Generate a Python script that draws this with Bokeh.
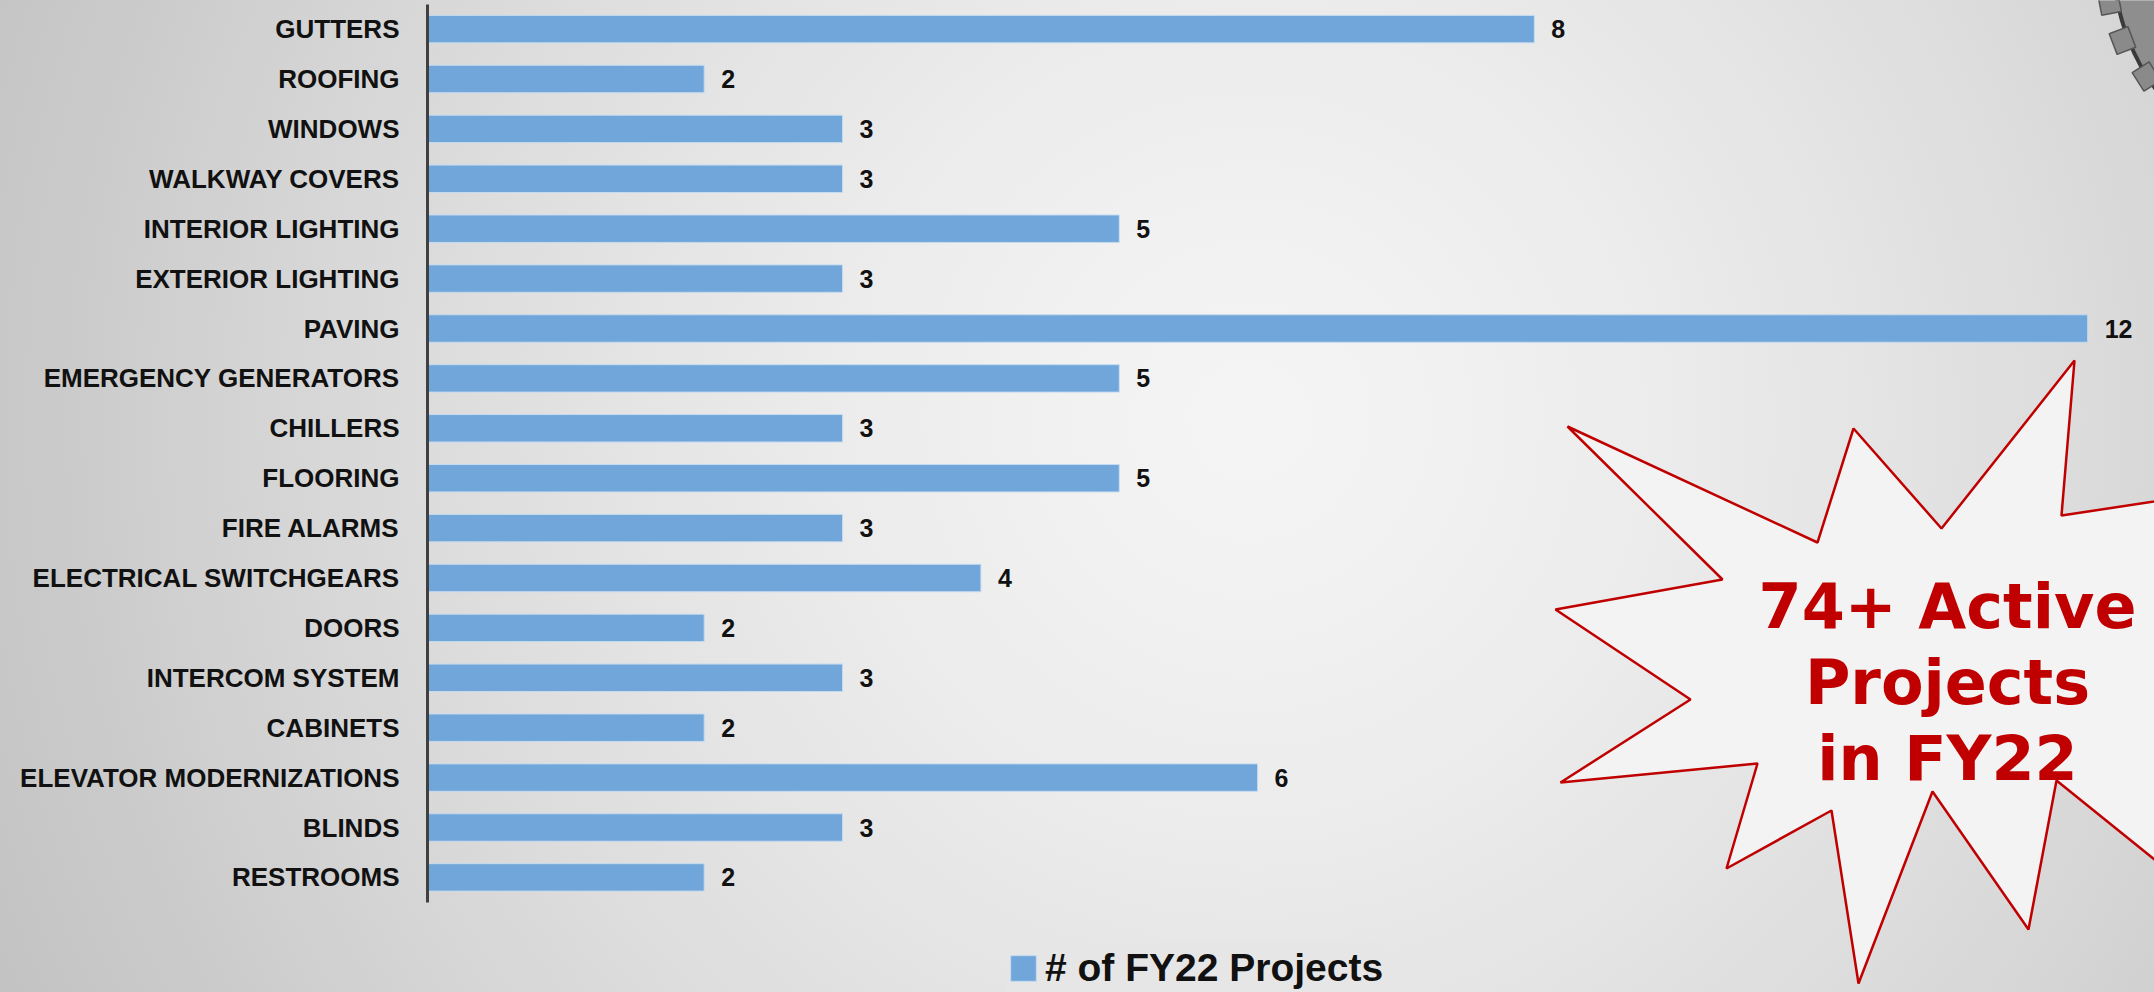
import math
from bokeh.plotting import figure
from bokeh.models import Range1d, FixedTicker, Legend, LegendItem
from bokeh.core.properties import value
from bokeh.embed import file_html
from bokeh.resources import INLINE

# ---------------- data ----------------
categories = ["GUTTERS", "ROOFING", "WINDOWS", "WALKWAY COVERS", "INTERIOR LIGHTING",
              "EXTERIOR LIGHTING", "PAVING", "EMERGENCY GENERATORS", "CHILLERS", "FLOORING",
              "FIRE ALARMS", "ELECTRICAL SWITCHGEARS", "DOORS", "INTERCOM SYSTEM", "CABINETS",
              "ELEVATOR MODERNIZATIONS", "BLINDS", "RESTROOMS"]
projects = [8, 2, 3, 3, 5, 3, 12, 5, 3, 5, 3, 4, 2, 3, 2, 6, 3, 2]
series_name = "# of FY22 Projects"
callout_lines = ["74+ Active", "Projects", "in FY22"]

# ---------------- layout constants (pixels) ----------------
W, H = 2154, 992
LEFT = 427            # frame left (axis line)
PX_PER_UNIT = 138.35  # pixels per project
ROW0 = 28.6           # first row centre (px from top)
PITCH = 49.9          # row pitch
n = len(categories)
idx = list(range(n))

x_end = (W - LEFT) / PX_PER_UNIT
y_top = -ROW0 / PITCH
y_bot = y_top + H / PITCH

def X(px):  # canvas pixel -> data x
    return (px - LEFT) / PX_PER_UNIT

def Y(px):  # canvas pixel -> data y
    return (px - ROW0) / PITCH

p = figure(width=W, height=H, output_backend="svg", toolbar_location=None,
           x_range=Range1d(0, x_end), y_range=Range1d(y_bot, y_top),
           x_axis_location=None, min_border_left=LEFT, min_border_right=0,
           min_border_top=0, min_border_bottom=0,
           border_fill_color=None, background_fill_color=None, outline_line_color=None)
p.styles = {"background-image": "radial-gradient(circle at 1250px 420px, #f4f4f4 0px, #f1f1f1 200px, "
            "#ececec 400px, #e5e5e5 600px, #dddddd 800px, #d4d4d4 1000px, #cacaca 1200px, "
            "#c2c2c2 1400px, #bebebe 1600px)"}
p.grid.visible = False

ax = p.yaxis[0]
ax.ticker = FixedTicker(ticks=idx)
ax.major_label_overrides = {i: c for i, c in zip(idx, categories)}
ax.major_label_text_font = "Liberation Sans"
ax.major_label_text_font_style = "bold"
ax.major_label_text_font_size = "26px"
ax.major_label_text_color = "#111111"
ax.major_label_standoff = 28
ax.major_tick_line_color = None
ax.minor_tick_line_color = None
ax.major_tick_in = 0
ax.major_tick_out = 0
ax.axis_line_color = "#404040"
ax.axis_line_width = 3
ax.bounds = (-0.5, n - 0.5)

# ---------------- bars ----------------
bars = p.hbar(y=idx, right=projects, left=0, height=0.55,
              fill_color="#70a6d9", line_color="#c4dbf1", line_width=1)

p.text(x=projects, y=idx, text=[str(v) for v in projects], x_offset=17,
       text_baseline="middle", text_align="left", text_font=value("Liberation Sans"),
       text_font_style="bold", text_font_size="25px", text_color="#111111")

# ---------------- callout starburst ----------------
star_px = [(1567, 426), (1817, 542), (1853, 428), (1941, 528), (2074, 360), (2061, 515),
           (2200, 494), (2250, 680), (2200, 896), (2056, 780), (2028, 929), (1932, 791),
           (1858, 983), (1831, 810), (1726, 868), (1757, 763), (1560, 782), (1690, 699),
           (1555, 609), (1722, 579)]
p.patch(x=[X(a) for a, b in star_px], y=[Y(b) for a, b in star_px],
        fill_color="#f3f3f3", line_color="#c00000", line_width=2.5)

callout_x = [X(1947)] * 3
callout_y = [Y(606), Y(682), Y(758)]
p.text(x=callout_x, y=callout_y, text=callout_lines, text_align="center",
       text_baseline="alphabetic", text_font=value("DejaVu Sans"), text_font_style="bold",
       text_font_size="62px", text_color="#c00000")

# ---------------- gear decoration (top-right corner) ----------------
gc = (2330, -40)
p.circle(x=[X(gc[0])], y=[Y(gc[1])], radius=217, radius_units="screen",
         fill_color="#8e8e8e", line_color="#3a3a3a", line_width=4)
teeth = [(2109, 2), (2122, 40), (2146, 76)]
angles = [math.atan2(-(b - gc[1]), a - gc[0]) for a, b in teeth]
p.rect(x=[X(a) for a, b in teeth], y=[Y(b) for a, b in teeth], width=20, height=22,
       width_units="screen", height_units="screen", angle=angles,
       fill_color="#8a8a8a", line_color="#555555", line_width=1.5)

# ---------------- legend ----------------
legend = Legend(items=[LegendItem(label=series_name, renderers=[bars])],
                location=(580, -1), orientation="horizontal",
                glyph_width=32, glyph_height=32, label_height=50, label_standoff=6,
                padding=10,
                label_text_font="Liberation Sans", label_text_font_style="bold",
                label_text_font_size="39px", label_text_color="#111111",
                background_fill_color="#e6e6e6", background_fill_alpha=1.0,
                border_line_color=None)
p.add_layout(legend)

open("out.html", "w").write(file_html(p, INLINE))
